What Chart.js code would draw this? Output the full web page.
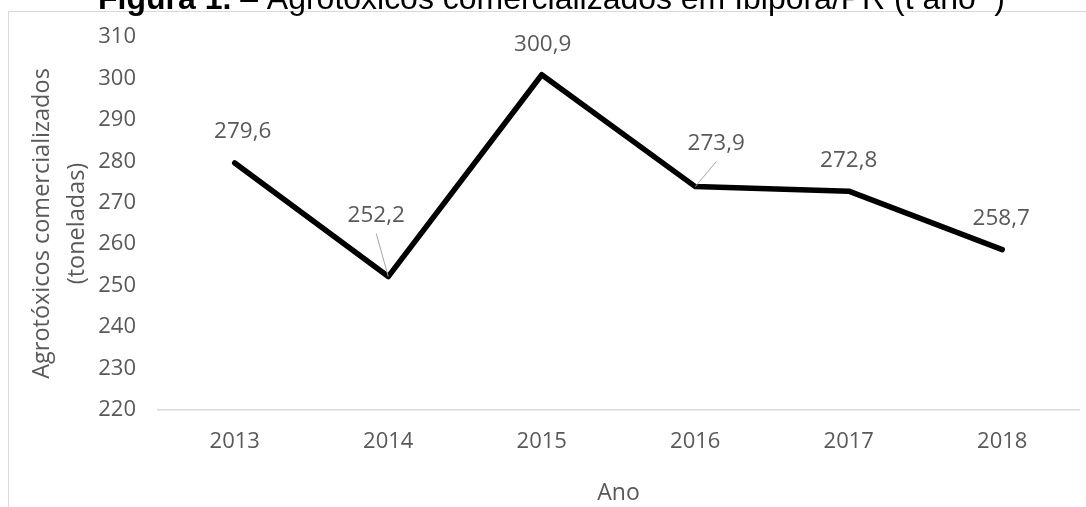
<!DOCTYPE html>
<html>
<head>
<meta charset="utf-8">
<script src="https://cdn.jsdelivr.net/npm/chart.js@4.4.1/dist/chart.umd.min.js"></script>
<style>
  html, body { margin: 0; padding: 0; background: #fff; }
  #wrap { width: 1086px; height: 507px; position: relative; }
</style>
</head>
<body>
<div id="wrap"><canvas id="c" width="1086" height="507"></canvas></div>
<script>
// ---- data ----
const years = ['2013', '2014', '2015', '2016', '2017', '2018'];
const agrotoxicos = [279.6, 252.2, 300.9, 273.9, 272.8, 258.7];
const yTickMin = 220;
const yTickMax = 310;
const yTickStep = 10;

const titleBold = 'Figura 1.';
const titleMain = ' \u2013 Agrotóxicos comercializados em Ibiporã/PR (t ano';
const titleSup = '-1';
const titleEnd = ')';
const yTitle = ['Agrotóxicos comercializados', '(toneladas)'];
const xTitle = 'Ano';

// ---- styling ----
const textColor = '#595959';
const fontFamily = "'Open Sans', 'Noto Sans', sans-serif";
// label placement relative to the point (dx, dy of label centre), and whether a leader line is drawn
const labelPlacement = [
  { dx: 8, dy: -31, leader: false },
  { dx: -12, dy: -61, leader: true },
  { dx: 1, dy: -30, leader: false },
  { dx: 21, dy: -43, leader: true },
  { dx: 0, dy: -31, leader: false },
  { dx: -1, dy: -31, leader: false }
];

const fmt = v => v.toFixed(1).replace('.', ',');

const framePlugin = {
  id: 'frame',
  beforeDraw(chart) {
    const ctx = chart.ctx;
    ctx.save();
    ctx.fillStyle = '#fff';
    ctx.fillRect(0, 0, chart.width, chart.height);
    ctx.strokeStyle = '#d9d9d9';
    ctx.lineWidth = 1;
    ctx.beginPath();
    ctx.moveTo(8.5, chart.height);
    ctx.lineTo(8.5, 11.5);
    ctx.lineTo(chart.width, 11.5);
    ctx.stroke();
    // clipped figure title
    const sizeGuess = 24;
    const measure = (s) => {
      ctx.font = 'bold ' + s + 'px "Liberation Sans", Arial, sans-serif';
      let w = ctx.measureText(titleBold).width;
      ctx.font = s + 'px "Liberation Sans", Arial, sans-serif';
      w += ctx.measureText(titleMain).width + ctx.measureText(titleEnd).width;
      ctx.font = (s * 0.65) + 'px "Liberation Sans", Arial, sans-serif';
      w += ctx.measureText(titleSup).width;
      return w;
    };
    const targetW = 907;
    const size = sizeGuess * targetW / measure(sizeGuess);
    const total = measure(size);
    let x = 551.5 - total / 2;
    const base = 9;
    ctx.fillStyle = '#000';
    ctx.textBaseline = 'alphabetic';
    ctx.textAlign = 'left';
    ctx.font = 'bold ' + size + 'px "Liberation Sans", Arial, sans-serif';
    ctx.fillText(titleBold, x, base);
    x += ctx.measureText(titleBold).width;
    ctx.font = size + 'px "Liberation Sans", Arial, sans-serif';
    ctx.fillText(titleMain, x, base);
    x += ctx.measureText(titleMain).width;
    ctx.font = (size * 0.65) + 'px "Liberation Sans", Arial, sans-serif';
    ctx.fillText(titleSup, x, base - size * 0.35);
    x += ctx.measureText(titleSup).width;
    ctx.font = size + 'px "Liberation Sans", Arial, sans-serif';
    ctx.fillText(titleEnd, x, base);
    ctx.restore();
  }
};

const labelPlugin = {
  id: 'pointLabels',
  afterDatasetsDraw(chart) {
    const ctx = chart.ctx;
    const meta = chart.getDatasetMeta(0);
    const data = chart.data.datasets[0].data;
    ctx.save();
    ctx.font = '22.5px ' + fontFamily;
    ctx.fillStyle = textColor;
    ctx.textAlign = 'center';
    ctx.textBaseline = 'middle';
    meta.data.forEach((pt, i) => {
      const p = labelPlacement[i];
      const lx = pt.x + p.dx, ly = pt.y + p.dy;
      ctx.fillText(fmt(data[i]), lx, ly);
      if (p.leader) {
        ctx.strokeStyle = '#a6a6a6';
        ctx.lineWidth = 1;
        ctx.beginPath();
        ctx.moveTo(lx, ly + 18);
        ctx.lineTo(pt.x, pt.y);
        ctx.stroke();
      }
    });
    ctx.restore();
  }
};

new Chart(document.getElementById('c'), {
  type: 'line',
  data: {
    labels: years,
    datasets: [{
      data: agrotoxicos,
      borderColor: '#000',
      borderWidth: 5.5,
      borderCapStyle: 'round',
      borderJoinStyle: 'round',
      pointRadius: 0,
      pointHoverRadius: 0,
      tension: 0,
      fill: false,
      clip: false
    }]
  },
  options: {
    responsive: false,
    animation: false,
    events: [],
    layout: { padding: { top: 37, right: 7, left: 0, bottom: 0 } },
    plugins: {
      legend: { display: false },
      title: { display: false },
      tooltip: { enabled: false }
    },
    scales: {
      x: {
        type: 'category',
        offset: true,
        grid: { display: false, drawTicks: false },
        border: { display: true, color: '#d9d9d9', width: 1.5 },
        ticks: { color: textColor, font: { family: fontFamily, size: 22 }, padding: 19, maxRotation: 0 },
        title: { display: true, text: xTitle, color: textColor, font: { family: fontFamily, size: 23 }, padding: { top: 0, bottom: 0 } },
        afterFit(s) { s.height = 97; }
      },
      y: {
        min: yTickMin,
        max: yTickMax,
        grid: { display: false, drawTicks: false },
        border: { display: false },
        ticks: { stepSize: yTickStep, color: textColor, font: { family: fontFamily, size: 22 }, padding: 22 },
        title: { display: true, text: yTitle, color: textColor, font: { family: fontFamily, size: 23.5, lineHeight: 1.49 }, padding: { top: 25, bottom: 0 } },
        afterFit(s) { s.width = 158; }
      }
    }
  },
  plugins: [framePlugin, labelPlugin]
});
</script>
</body>
</html>
